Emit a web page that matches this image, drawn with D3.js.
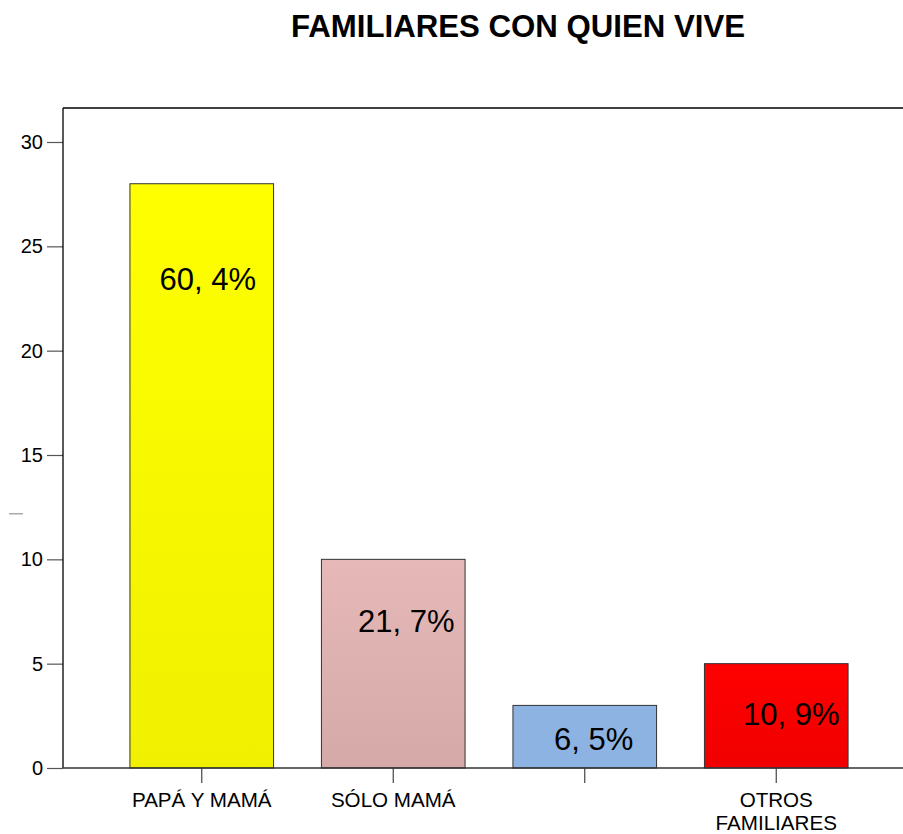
<!DOCTYPE html>
<html>
<head>
<meta charset="utf-8">
<script src="https://cdn.jsdelivr.net/npm/d3@7"></script>
<style>
	body { margin: 0; background: #fff; }
	text { font-family: "Liberation Sans", Arial, sans-serif; fill: #000; }
</style>
</head>
<body>
<div id="chart"></div>
<script>
// data
var categories = ["PAPÁ Y MAMÁ", "SÓLO MAMÁ", "", "OTROS FAMILIARES"];
var counts = [28, 10, 3, 5];
var percentLabels = ["60, 4%", "21, 7%", "6, 5%", "10, 9%"];
var yTicks = [0, 5, 10, 15, 20, 25, 30];

// fill gradient of each bar (top colour, bottom colour)
var colorTop = ["#ffff00", "#e6b9b8", "#8db3e2", "#ff0000"];
var colorBottom = ["#f0f000", "#d4a9a7", "#8db3e2", "#f00000"];

// where each percentage label sits, in axis units (the original was placed by hand)
var labelAt = [22.9, 6.5, 0.86, 2.06];
var labelShift = [6, 13, 9, 15];

function drawChart(code) {
	var width = 903;
	var height = 834;
	var frame = { left: 63, top: 108, right: 903, bottom: 768 };

	var svg = d3
		.select(code)
		.append("svg")
		.attr("width", width)
		.attr("height", height);

	var defs = svg.append("defs");
	for (let i = 0; i < categories.length; i++) {
		var grad = defs
			.append("linearGradient")
			.attr("id", "grad" + i)
			.attr("x1", 0)
			.attr("y1", 0)
			.attr("x2", 0)
			.attr("y2", 1);
		grad.append("stop").attr("offset", "0%").attr("stop-color", colorTop[i]);
		grad.append("stop").attr("offset", "100%").attr("stop-color", colorBottom[i]);
	}

	var keys = categories.map((d, i) => i);

	var xScale = d3
		.scaleBand()
		.domain(keys)
		.range([106, 872])
		.paddingInner(0.25)
		.paddingOuter(0.125);

	var yScale = d3.scaleLinear().domain([0, 30]).range([frame.bottom, 142]);

	// title
	svg.append("text")
		.attr("x", 518)
		.attr("y", 37)
		.style("text-anchor", "middle")
		.style("font-size", "31.2px")
		.style("font-weight", "bold")
		.text("FAMILIARES CON QUIEN VIVE");

	// frame: left and top lines
	svg.append("line")
		.attr("x1", frame.left)
		.attr("x2", frame.right)
		.attr("y1", frame.top)
		.attr("y2", frame.top)
		.style("stroke", "#000")
		.style("stroke-width", 1.3);

	// bars
	svg.selectAll("rect.bar")
		.data(keys)
		.enter()
		.append("rect")
		.attr("class", "bar")
		.attr("x", (i) => xScale(i))
		.attr("y", (i) => yScale(counts[i]))
		.attr("width", xScale.bandwidth())
		.attr("height", (i) => yScale(0) - yScale(counts[i]))
		.style("fill", (i) => "url(#grad" + i + ")")
		.style("stroke", "#333")
		.style("stroke-width", 1);

	// percentage labels
	svg.selectAll("text.pct")
		.data(keys)
		.enter()
		.append("text")
		.attr("class", "pct")
		.attr("x", (i) => xScale(i) + xScale.bandwidth() / 2 + labelShift[i])
		.attr("y", (i) => yScale(labelAt[i]))
		.style("text-anchor", "middle")
		.style("font-size", "31px")
		.text((i) => percentLabels[i]);

	// y axis
	var yAxis = d3
		.axisLeft(yScale)
		.tickValues(yTicks)
		.tickSize(16)
		.tickPadding(4);
	var gy = svg
		.append("g")
		.attr("transform", "translate(" + frame.left + ",0)")
		.call(yAxis);
	gy.select(".domain").remove();
	gy.selectAll(".tick line").style("stroke", "#555").style("stroke-width", 1.2);
	gy.selectAll(".tick text")
		.style("font-size", "20px")
		.style("font-family", '"Liberation Sans", Arial, sans-serif')
		.attr("fill", "#000");

	svg.append("line")
		.attr("x1", frame.left)
		.attr("x2", frame.left)
		.attr("y1", frame.top)
		.attr("y2", frame.bottom)
		.style("stroke", "#000")
		.style("stroke-width", 1.3);

	// x axis
	var xAxis = d3.axisBottom(xScale).tickSize(15).tickFormat("");
	var gx = svg
		.append("g")
		.attr("transform", "translate(0," + frame.bottom + ")")
		.call(xAxis);
	gx.select(".domain").remove();
	gx.selectAll(".tick line").style("stroke", "#444").style("stroke-width", 1.2);

	svg.append("line")
		.attr("x1", frame.left)
		.attr("x2", frame.right)
		.attr("y1", frame.bottom)
		.attr("y2", frame.bottom)
		.style("stroke", "#333")
		.style("stroke-width", 1.5);

	// category labels, wrapped onto lines
	svg.selectAll("text.cat")
		.data(keys)
		.enter()
		.append("text")
		.attr("class", "cat")
		.attr("y", 807)
		.style("text-anchor", "middle")
		.style("font-size", "20.6px")
		.each(function (i) {
			var words = categories[i] == "OTROS FAMILIARES" ? ["OTROS", "FAMILIARES"] : [categories[i]];
			var cx = xScale(i) + xScale.bandwidth() / 2;
			var t = d3.select(this);
			words.forEach(function (w, n) {
				t.append("tspan")
					.attr("x", cx)
					.attr("y", 807 + n * 23)
					.text(w);
			});
		});

	// tiny (unreadable) y-axis title mark
	svg.append("rect")
		.attr("x", 9)
		.attr("y", 513)
		.attr("width", 14)
		.attr("height", 1.5)
		.style("fill", "#aaa");
}

drawChart("#chart");
</script>
</body>
</html>
